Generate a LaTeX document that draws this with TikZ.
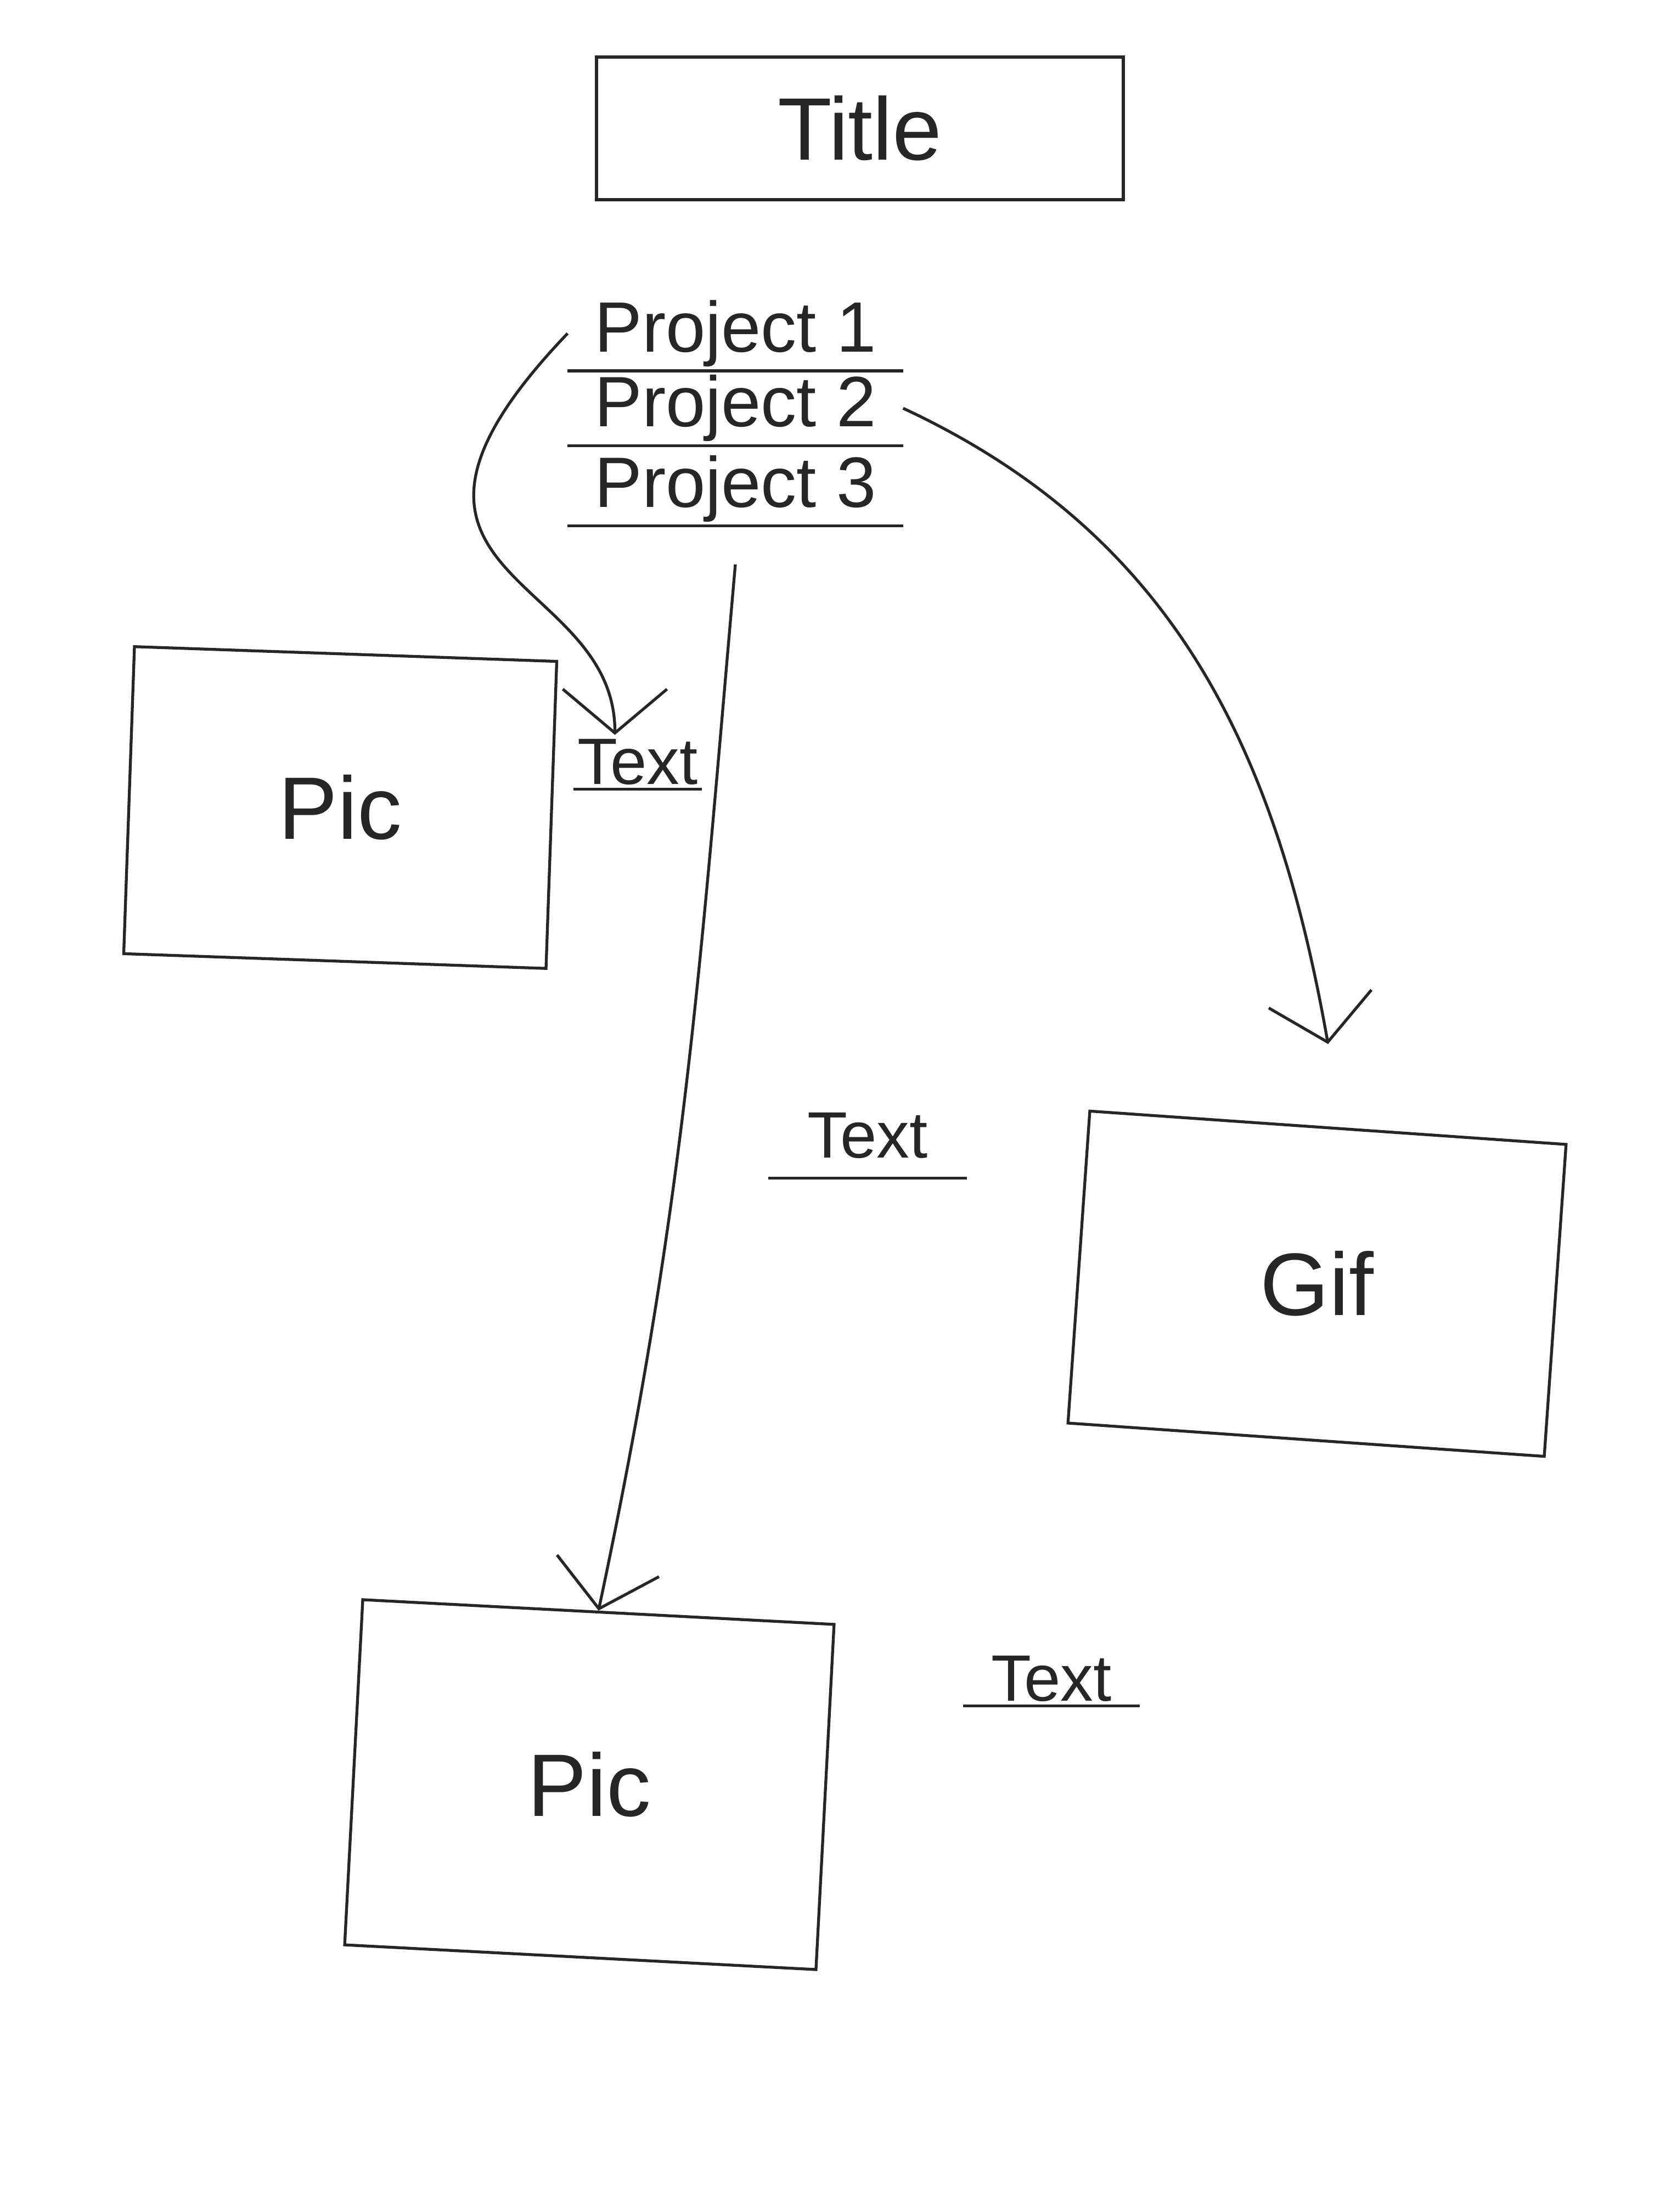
\documentclass[tikz,border=0pt]{standalone}
\usepackage{fontspec}
\setmainfont{Liberation Sans}
\usepackage{tikz}
\usetikzlibrary{arrows.meta,positioning}

\begin{document}
\begin{tikzpicture}[>={Straight Barb[length=0.8cm,width=1.9cm]},
  pen/.style={line width=1.5pt, black!85},
  box/.style={pen, draw},
  boxlbl/.style={text=black!85, font=\fontsize{46}{54}\selectfont},
  proj/.style={text=black!85, font=\fontsize{37}{44}\selectfont, minimum width=6.1cm, minimum height=1.35cm, inner sep=0pt},
  note/.style={text=black!85, font=\fontsize{34}{40}\selectfont, inner sep=2pt},
  arr/.style={pen, ->}]
  \useasboundingbox (0,0) rectangle (30.24,40.32);
  \node[box, boxlbl, minimum width=9.6cm, minimum height=2.6cm] (title) at (15.67,37.98) {Title};
  \node[proj, anchor=south] (p1) at (13.4,33.56) {Project 1};
  \node[proj, below=0pt of p1] (p2) {Project 2};
  \node[proj, below=0.1cm of p2] (p3) {Project 3};
  \foreach \p in {p1,p2,p3}
    \draw[pen] (\p.south west) -- (\p.south east);
  \node[box, minimum width=7.7cm, minimum height=5.6cm, rotate=-2] (pic1) at (6.2,25.6) {};
  \node[boxlbl] (pic1lbl) at (pic1) {Pic};
  \node[note] (t1) at (11.62,26.43) {Text};
  \node[note, minimum width=3.6cm, inner ysep=10pt] (t2) at (15.81,19.62) {Text};
  \node[box, minimum width=8.7cm, minimum height=5.7cm, rotate=-4] (gif) at (24.0,16.92) {};
  \node[boxlbl] (giflbl) at (gif) {Gif};
  \node[box, minimum width=8.6cm, minimum height=6.3cm, rotate=-3] (pic2) at (10.74,7.79) {};
  \node[boxlbl] (pic2lbl) at (pic2) {Pic};
  \node[note, minimum width=3.2cm] (t3) at (19.16,9.72) {Text};
  \foreach \t in {t1,t2,t3}
    \draw[pen] (\t.south west) -- (\t.south east);
  \coordinate[above=1.5cm of gif.north] (gifin);
  \coordinate[below=0.7cm of p3.south] (p3out);
  \draw[arr] (p1.west) .. controls +(-4.3,-4.5) and +(0,3) .. (t1.130);
  \draw[arr] (p2.east) to[out=-25, in=100] (gifin);
  \draw[arr] (p3out) to[out=-95, in=78] (pic2.north);
\end{tikzpicture}
\end{document}
